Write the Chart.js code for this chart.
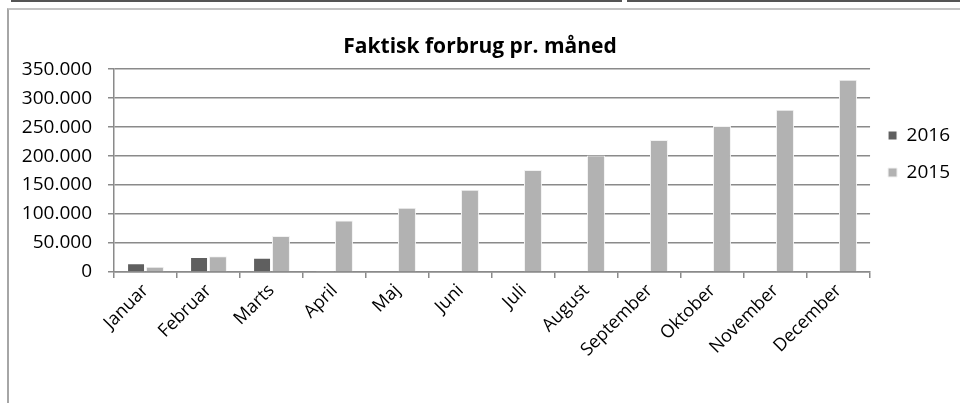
<!DOCTYPE html>
<html>
<head>
<meta charset="utf-8">
<script src="https://cdn.jsdelivr.net/npm/chart.js@4.4.1/dist/chart.umd.min.js"></script>
<style>
  body { margin: 0; background: #fff; }
  #wrap { position: relative; width: 960px; height: 403px; overflow: hidden; }
  .topline { position: absolute; top: 0; height: 2px; background: #555; }
  #frame { position: absolute; left: 7px; top: 8px; width: 1000px; height: 500px;
           border-left: 2px solid #a6a6a6; border-top: 2px solid #c4c4c4; }
  canvas { position: absolute; left: 0; top: 0; }
</style>
</head>
<body>
<div id="wrap">
  <div class="topline" style="left:11px;width:611px"></div>
  <div class="topline" style="left:627px;width:333px"></div>
  <div id="frame"></div>
  <canvas id="myChart" width="960" height="403"></canvas>
</div>
<script>
var maaneder = ["Januar", "Februar", "Marts", "April", "Maj", "Juni", "Juli", "August", "September", "Oktober", "November", "December"]
var forbrug2016 = [15000, 26000, 24500, 1000, 0, 0, 0, 0, 0, 0, 0, 0]
var forbrug2015 = [9000, 27000, 62000, 89000, 111000, 142000, 176000, 201000, 228000, 252000, 280000, 332000]
var yTicks = [0, 50000, 100000, 150000, 200000, 250000, 300000, 350000]

var fontNavn = "'Open Sans', 'Noto Sans', sans-serif"

function formatTal(v) {
    return String(v).replace(/\B(?=(\d{3})+(?!\d))/g, ".")
}

var ctx = document.getElementById("myChart").getContext("2d")
var myChart = new Chart(ctx, {
    type: "bar",
    data: {
        labels: maaneder,
        datasets: [{
            label: "2016",
            data: forbrug2016,
            backgroundColor: "#5f5f5f",
            borderColor: "#ffffff",
            borderWidth: 1,
            categoryPercentage: 0.6,
            barPercentage: 0.95
        }, {
            label: "2015",
            data: forbrug2015,
            backgroundColor: "#b2b2b2",
            borderColor: "#f2f2f2",
            borderWidth: 1,
            categoryPercentage: 0.6,
            barPercentage: 0.95
        }]
    },
    options: {
        responsive: false,
        animation: false,
        layout: {
            padding: { left: 0, right: 0, top: 34, bottom: 0 }
        },
        scales: {
            x: {
                grid: {
                    drawOnChartArea: false,
                    color: "#8a8a8a",
                    lineWidth: 1.5,
                    tickLength: 6
                },
                border: { color: "#8a8a8a", width: 1.5 },
                ticks: {
                    color: "#000",
                    font: { family: fontNavn, size: 18 },
                    maxRotation: 45,
                    minRotation: 45,
                    padding: 2
                },
                afterFit: function (scale) { scale.height = 131 }
            },
            y: {
                min: 0,
                max: 350000,
                afterBuildTicks: function (scale) {
                    scale.ticks = yTicks.map(function (v) { return { value: v } })
                },
                grid: {
                    color: "#8a8a8a",
                    lineWidth: 1.5,
                    tickLength: 6
                },
                border: { color: "#8a8a8a", width: 1.5 },
                ticks: {
                    color: "#000",
                    font: { family: fontNavn, size: 19 },
                    padding: 16,
                    callback: function (v) { return formatTal(v) }
                },
                afterFit: function (scale) { scale.width = 114 }
            }
        },
        plugins: {
            title: {
                display: true,
                text: "Faktisk forbrug pr. måned",
                color: "#000",
                font: { family: fontNavn, size: 21, weight: "bold" },
                padding: { top: 0, bottom: 10 }
            },
            legend: {
                position: "right",
                align: "start",
                title: {
                    display: true,
                    text: " ",
                    color: "rgba(0,0,0,0)",
                    font: { size: 10 },
                    padding: { top: 62, bottom: 0 }
                },
                labels: {
                    color: "#000",
                    boxWidth: 9,
                    boxHeight: 9,
                    padding: 18,
                    font: { family: fontNavn, size: 19 }
                }
            },
            tooltip: { enabled: false }
        }
    }
})
</script>
</body>
</html>
